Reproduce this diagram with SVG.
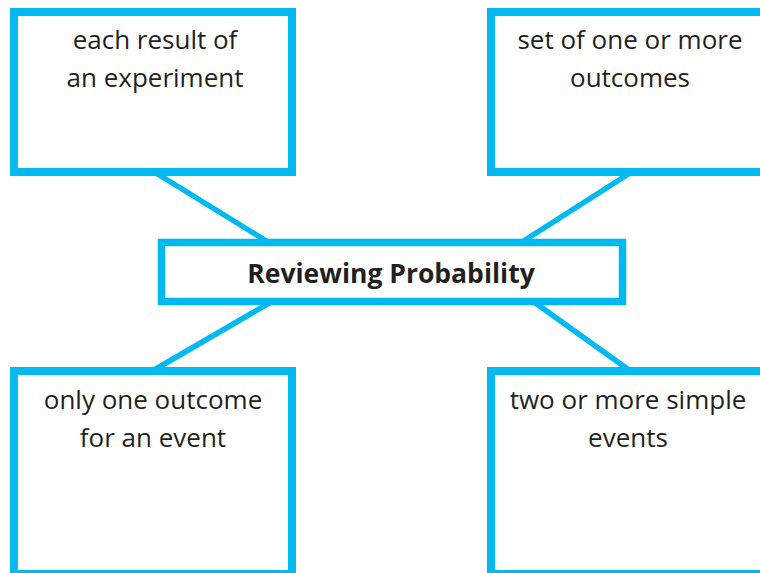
<svg xmlns="http://www.w3.org/2000/svg" width="760" height="573" viewBox="0 0 760 573">
<style>
.box{fill:#fff;stroke:#00B9F0;stroke-width:8}
.con{stroke:#00B9F0;stroke-width:5.5;fill:none}
.t{font-family:"Open Sans","Noto Sans",sans-serif;font-size:26px;fill:#231F20;text-anchor:middle}
.tb{font-family:"Open Sans","Noto Sans",sans-serif;font-size:26.5px;font-weight:bold;fill:#231F20;text-anchor:middle}
</style>
<rect width="760" height="573" fill="#fff"/>
<g id="connectors">
<line class="con" x1="156" y1="173" x2="268" y2="242"/>
<line class="con" x1="630" y1="173" x2="522" y2="242"/>
<line class="con" x1="271" y1="302" x2="154" y2="370"/>
<line class="con" x1="534" y1="302" x2="629" y2="370"/>
</g>
<g id="n-outcome">
<rect class="box" x="14" y="12" width="278" height="160"/>
<text class="t" x="155" y="49">each result of</text>
<text class="t" x="155" y="87">an experiment</text>
</g>
<g id="n-event">
<rect class="box" x="491" y="12" width="278" height="160"/>
<text class="t" x="630" y="49">set of one or more</text>
<text class="t" x="630" y="87">outcomes</text>
</g>
<g id="n-center">
<rect class="box" x="161.5" y="242.5" width="461" height="59" style="stroke-width:7.5"/>
<text class="tb" x="391" y="283">Reviewing Probability</text>
</g>
<g id="n-simple">
<rect class="box" x="14" y="371" width="278" height="203"/>
<text class="t" x="153" y="409">only one outcome</text>
<text class="t" x="153" y="447">for an event</text>
</g>
<g id="n-compound">
<rect class="box" x="491" y="371" width="278" height="203"/>
<text class="t" x="628" y="409">two or more simple</text>
<text class="t" x="628" y="447">events</text>
</g>
</svg>
